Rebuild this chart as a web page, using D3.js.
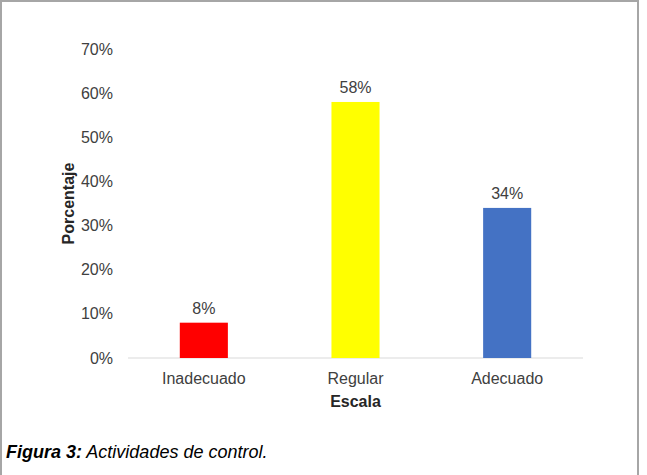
<!DOCTYPE html>
<html lang="es">
<head>
<meta charset="utf-8">
<script src="https://d3js.org/d3.v7.min.js"></script>
<style>
  body { margin: 0; background: #fff; }
  text { font-family: "Liberation Sans", Arial, sans-serif; }
</style>
</head>
<body>
<script>
// data
var categories = ["Inadecuado", "Regular", "Adecuado"];
var values = [8, 58, 34];
var barColours = ["#ff0000", "#ffff00", "#4472c4"];
var yTicks = [0, 10, 20, 30, 40, 50, 60, 70];

var width = 647, height = 475;
var plotLeft = 128, plotRight = 583, plotTop = 49, plotBottom = 358;

var svg = d3.select("body").append("svg")
    .attr("width", width)
    .attr("height", height);

// frame round the figure
svg.append("rect")
   .attr("x", 1).attr("y", 1)
   .attr("width", 637).attr("height", 480)
   .attr("fill", "#fff")
   .attr("stroke", "#a6a6a6")
   .attr("stroke-width", 2);

var x = d3.scaleBand()
    .domain(categories)
    .range([plotLeft, plotRight])
    .paddingInner(0.683)
    .paddingOuter(0.3415);

var y = d3.scaleLinear()
    .domain([0, 70])
    .range([plotBottom, plotTop]);

// y axis labels (no line)
var yAxis = svg.append("g")
    .attr("transform", "translate(" + (plotLeft - 12) + ",0)")
    .call(d3.axisLeft(y).tickValues(yTicks).tickSize(0).tickFormat(function(d) { return d + "%"; }));
yAxis.select(".domain").remove();
yAxis.selectAll("text")
     .attr("fill", "#404040")
     .style("font-size", "16px");

// baseline
svg.append("line")
   .attr("x1", plotLeft).attr("x2", plotRight)
   .attr("y1", y(0)).attr("y2", y(0))
   .attr("stroke", "#d9d9d9")
   .attr("stroke-width", 1);

// bars
svg.selectAll(".bar")
   .data(values)
   .enter().append("rect")
   .attr("class", "bar")
   .attr("x", function(d, i) { return x(categories[i]); })
   .attr("y", function(d) { return y(d); })
   .attr("width", x.bandwidth())
   .attr("height", function(d) { return y(0) - y(d); })
   .attr("fill", function(d, i) { return barColours[i]; });

// value labels
svg.selectAll(".val")
   .data(values)
   .enter().append("text")
   .attr("class", "val")
   .attr("x", function(d, i) { return x(categories[i]) + x.bandwidth() / 2; })
   .attr("y", function(d) { return y(d) - 9; })
   .attr("text-anchor", "middle")
   .attr("fill", "#404040")
   .style("font-size", "16px")
   .text(function(d) { return d + "%"; });

// x axis labels
var xAxis = svg.append("g")
    .attr("transform", "translate(0," + (y(0) + 12) + ")")
    .call(d3.axisBottom(x).tickSize(0));
xAxis.select(".domain").remove();
xAxis.selectAll("text")
     .attr("fill", "#404040")
     .attr("dy", null)
     .attr("y", 14)
     .style("font-size", "16px");

// axis titles
svg.append("text")
   .attr("x", (plotLeft + plotRight) / 2)
   .attr("y", 407)
   .attr("text-anchor", "middle")
   .attr("fill", "#262626")
   .style("font-size", "16px")
   .style("font-weight", "bold")
   .text("Escala");

svg.append("text")
   .attr("transform", "translate(74," + ((y(0) + y(70)) / 2) + ") rotate(-90)")
   .attr("text-anchor", "middle")
   .attr("fill", "#262626")
   .style("font-size", "16px")
   .style("font-weight", "bold")
   .text("Porcentaje");

// caption
var cap = svg.append("text")
   .attr("x", 6)
   .attr("y", 458)
   .attr("fill", "#000")
   .style("font-size", "18px")
   .style("font-style", "italic");
cap.append("tspan").style("font-weight", "bold").text("Figura 3:");
cap.append("tspan").text(" Actividades de control.");
</script>
</body>
</html>
